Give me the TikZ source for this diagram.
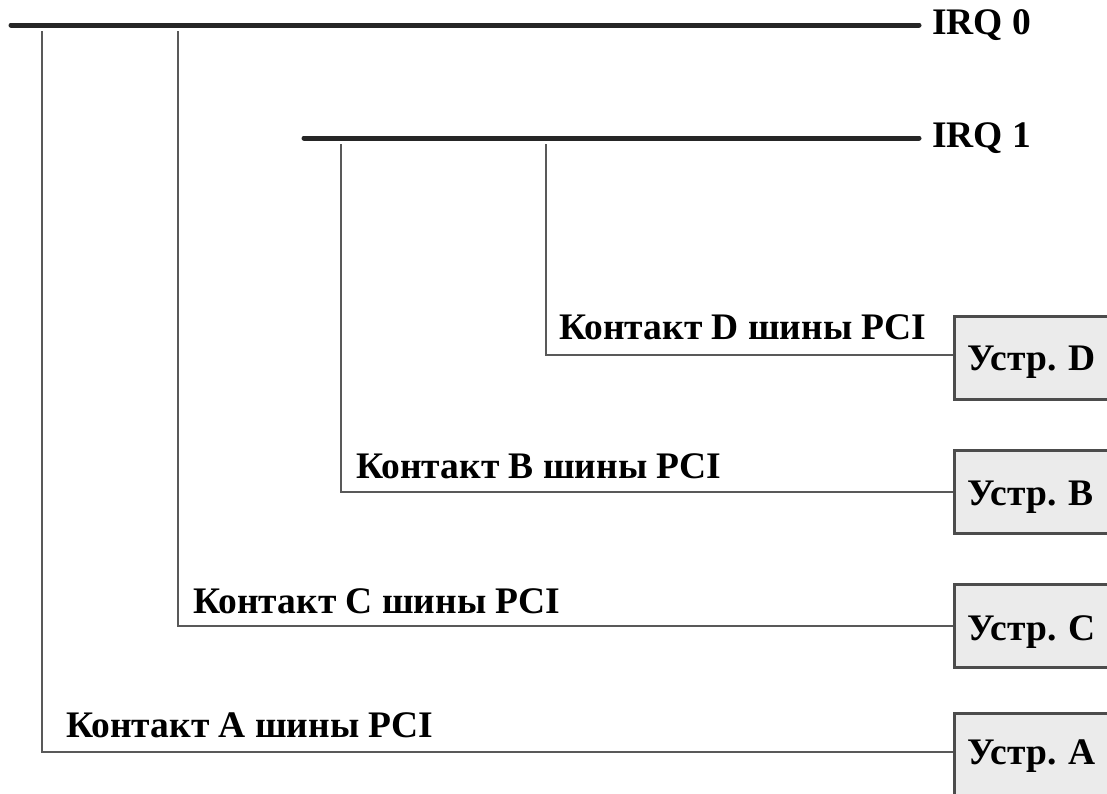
\documentclass[tikz,border=0pt]{standalone}
\usepackage{fontspec}
\setmainfont{Liberation Serif}
\begin{document}
\begin{tikzpicture}[x=1pt,y=-1pt,
  bus/.style={line width=5pt,color=black!85,line cap=round},
  wire/.style={line width=2.4pt,color=black!65},
  lbl/.style={font=\bfseries\fontsize{37.5}{37.5}\selectfont,inner sep=0pt,anchor=base west},
  dev/.style={draw=black!70,line width=2.5pt,fill=black!8,minimum width=175pt,inner sep=0pt,anchor=north west}
]
\useasboundingbox (0,0) rectangle (1107,793);

% interrupt lines
\node[lbl] (irq0) at (932,34) {IRQ 0};
\node[lbl] (irq1) at (932,147) {IRQ 1};
\coordinate (irq0w) at (11,25);
\coordinate (irq1w) at (304,138);
\coordinate (irq0e) at (919,25);
\coordinate (irq1e) at (919,138);
\draw[bus] (irq0w) -- (irq0e);
\draw[bus] (irq1w) -- (irq1e);

% devices
\node[dev,minimum height=83pt] (devD) at (953,315) {};
\node[dev,minimum height=83pt] (devB) at (953,449) {};
\node[dev,minimum height=83pt] (devC) at (953,583) {};
\node[dev,minimum height=100pt] (devA) at (953,712) {};
\node[lbl] (tD) at (967,370) {Устр. D};
\node[lbl] (tB) at (967,505) {Устр. B};
\node[lbl] (tC) at (967,640) {Устр. C};
\node[lbl] (tA) at (967,764) {Устр. A};

% pin labels
\node[lbl] (pD) at (559,339) {Контакт D шины PCI};
\node[lbl] (pB) at (356,478) {Контакт B шины PCI};
\node[lbl] (pC) at (193,613) {Контакт C шины PCI};
\node[lbl] (pA) at (66,737) {Контакт A шины PCI};

% taps from the buses
\coordinate (tapA) at (42,31);
\coordinate (tapC) at (178,31);
\coordinate (tapB) at (341,144);
\coordinate (tapD) at (546,144);
\draw[wire] (tapD) |- (devD.west |- 0,355);
\draw[wire] (tapB) |- (devB.west |- 0,492);
\draw[wire] (tapC) |- (devC.west |- 0,626);
\draw[wire] (tapA) |- (devA.west |- 0,752);
\end{tikzpicture}
\end{document}
